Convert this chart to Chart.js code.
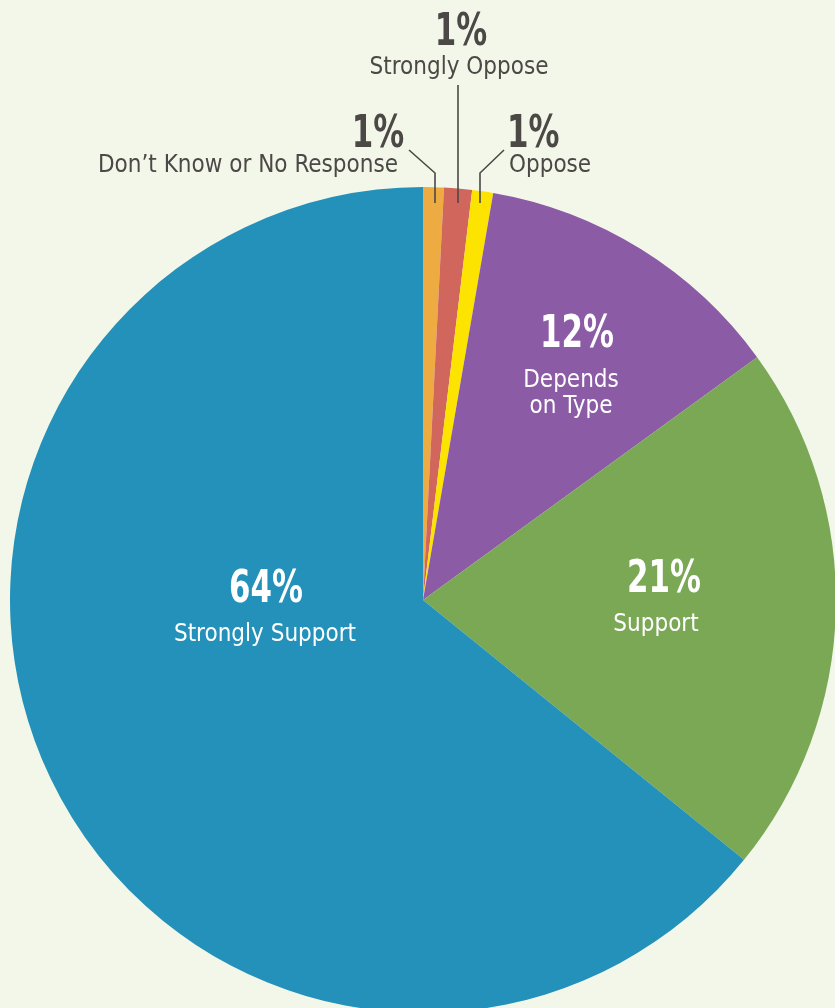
<!DOCTYPE html>
<html>
<head>
<meta charset="utf-8">
<script src="https://cdn.jsdelivr.net/npm/chart.js@4.4.1/dist/chart.umd.min.js"></script>
<style>
  html, body { margin: 0; padding: 0; background: #f3f7ea; overflow: hidden; }
  #frame { position: relative; width: 835px; height: 1008px; overflow: hidden; background: #f3f7ea; }
  #wrap { position: absolute; left: 0; top: 0; width: 846px; height: 1013px; }
</style>
</head>
<body>
<div id="frame"><div id="wrap"><canvas id="c"></canvas></div></div>
<script>
// Categories, clockwise from 12 o'clock
const categories = ["Don\u2019t Know or No Response", "Strongly Oppose", "Oppose", "Depends on Type", "Support", "Strongly Support"];
// Shares (percent)
const values = [0.81, 1.09, 0.82, 12.28, 20.83, 64.17];
// Printed percentage labels
const percentLabels = ["1%", "1%", "1%", "12%", "21%", "64%"];
// Printed name labels (line breaks as arrays)
const nameLabels = [["Don\u2019t Know or No Response"], ["Strongly Oppose"], ["Oppose"], ["Depends", "on Type"], ["Support"], ["Strongly Support"]];
const colors = ["#eeab42", "#d1665c", "#fde400", "#8b5ba5", "#7aa854", "#2391b9"];

const FONT = '"DejaVu Sans Condensed", "DejaVu Sans", sans-serif';
const DARK = "#4b4846";

const labelLayout = [
  {px: 378, py: 147, pAlign: "center", nx: 398, ny: 172, nAlign: "right", color: DARK},
  {px: 461, py: 45,  pAlign: "center", nx: 459, ny: 74,  nAlign: "center", color: DARK},
  {px: 507, py: 147, pAlign: "left",   nx: 509, ny: 172, nAlign: "left", color: DARK},
  {px: 577, py: 347, pAlign: "center", nx: 571, ny: 387, nAlign: "center", color: "#ffffff"},
  {px: 664, py: 592, pAlign: "center", nx: 656, ny: 631, nAlign: "center", color: "#ffffff"},
  {px: 266, py: 602, pAlign: "center", nx: 265, ny: 641, nAlign: "center", color: "#ffffff"}
];
const leaders = [
  [[409, 150], [435, 173], [435, 203]],
  [[458, 85], [458, 203]],
  [[504, 150], [480, 173], [480, 203]]
];

function drawScaled(ctx, text, x, y, sx) {
  ctx.save();
  ctx.translate(x, y);
  ctx.scale(sx, 1);
  ctx.fillText(text, 0, 0);
  ctx.restore();
}

const labelPlugin = {
  id: "labels",
  afterDatasetsDraw(chart) {
    const ctx = chart.ctx;
    ctx.save();
    ctx.strokeStyle = DARK;
    ctx.lineWidth = 1.6;
    leaders.forEach(pts => {
      ctx.beginPath();
      pts.forEach((p, i) => i ? ctx.lineTo(p[0], p[1]) : ctx.moveTo(p[0], p[1]));
      ctx.stroke();
    });
    ctx.textBaseline = "alphabetic";
    labelLayout.forEach((L, i) => {
      ctx.fillStyle = L.color;
      ctx.font = "bold 44px " + FONT;
      ctx.textAlign = L.pAlign;
      drawScaled(ctx, percentLabels[i], L.px, L.py, 0.78);
      ctx.font = "24px " + FONT;
      ctx.textAlign = L.nAlign;
      nameLabels[i].forEach((line, j) => {
        drawScaled(ctx, line, L.nx, L.ny + j * 26, 1.0);
      });
    });
    ctx.restore();
  }
};

new Chart(document.getElementById("c"), {
  type: "pie",
  data: {
    labels: categories,
    datasets: [{
      data: values,
      backgroundColor: colors,
      borderWidth: 0,
      hoverOffset: 0
    }]
  },
  options: {
    responsive: true,
    maintainAspectRatio: false,
    animation: false,
    layout: { padding: { top: 187, left: 10, right: 10, bottom: 0 } },
    plugins: { legend: { display: false }, tooltip: { enabled: false } }
  },
  plugins: [labelPlugin]
});
</script>
</body>
</html>
